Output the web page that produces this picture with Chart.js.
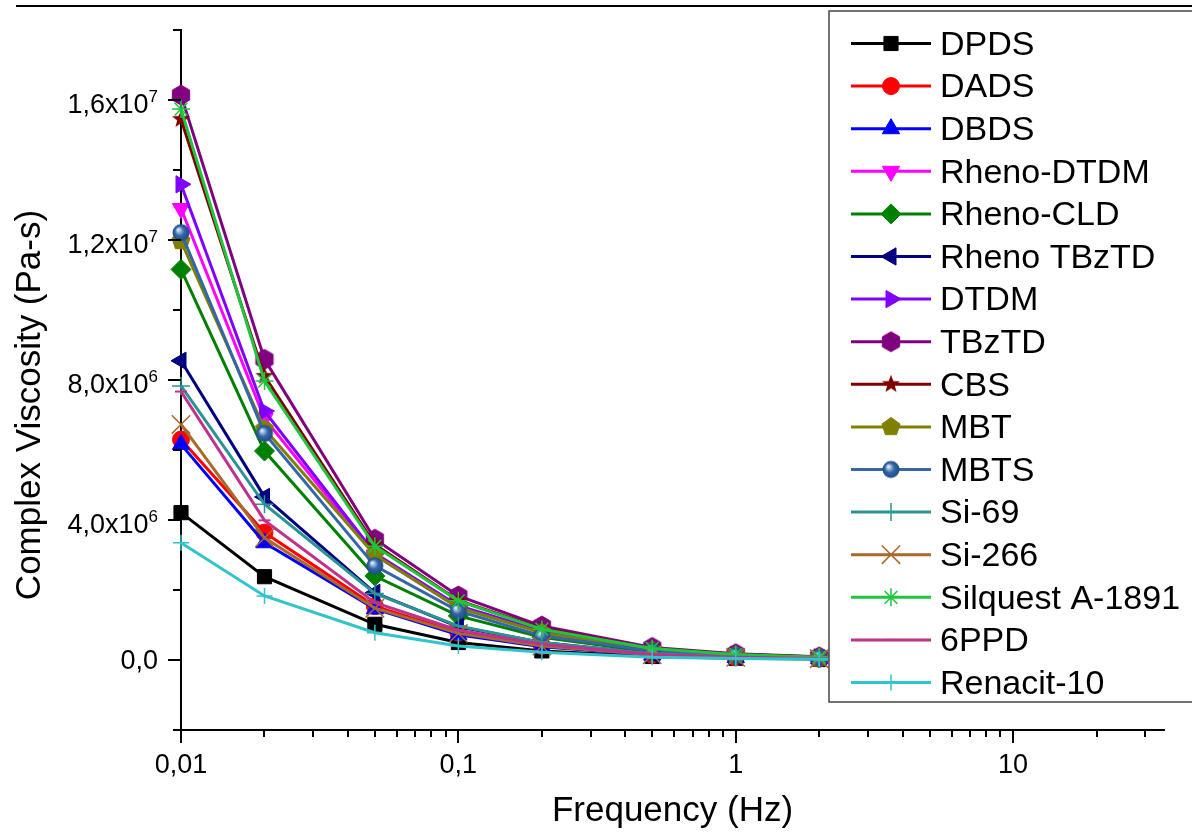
<!DOCTYPE html>
<html><head><meta charset="utf-8">
<script src="https://cdn.jsdelivr.net/npm/chart.js@4.4.1/dist/chart.umd.min.js"></script>
<style>html,body{margin:0;padding:0;background:#fff;}canvas{display:block;}</style>
</head><body>
<canvas id="c" width="1192" height="832"></canvas>
<script>
// ---------- data ----------
const frequencies = [0.01, 0.02, 0.05, 0.1, 0.2, 0.5, 1, 2, 5, 10];
const seriesNames = ['DPDS','DADS','DBDS','Rheno-DTDM','Rheno-CLD','Rheno TBzTD','DTDM','TBzTD','CBS','MBT','MBTS','Si-69','Si-266','Silquest A-1891','6PPD','Renacit-10'];
const DPDS        = [4.21e6, 2.38e6, 1.02e6, 0.50e6, 0.26e6, 0.10e6, 0.050e6, 0.025e6, 0.012e6, 0.006e6];
const DADS        = [6.30e6, 3.64e6, 1.54e6, 0.78e6, 0.40e6, 0.15e6, 0.075e6, 0.038e6, 0.016e6, 0.008e6];
const DBDS        = [6.16e6, 3.35e6, 1.46e6, 0.72e6, 0.38e6, 0.14e6, 0.070e6, 0.035e6, 0.015e6, 0.008e6];
const RhenoDTDM   = [12.9e6, 6.90e6, 3.00e6, 1.50e6, 0.80e6, 0.28e6, 0.140e6, 0.070e6, 0.030e6, 0.015e6];
const RhenoCLD    = [11.16e6, 5.97e6, 2.40e6, 1.26e6, 0.65e6, 0.23e6, 0.120e6, 0.060e6, 0.026e6, 0.013e6];
const RhenoTBzTD  = [8.55e6, 4.66e6, 1.92e6, 0.95e6, 0.50e6, 0.18e6, 0.090e6, 0.045e6, 0.020e6, 0.010e6];
const DTDM        = [13.59e6, 7.11e6, 3.05e6, 1.55e6, 0.83e6, 0.30e6, 0.150e6, 0.075e6, 0.032e6, 0.016e6];
const TBzTD       = [16.14e6, 8.59e6, 3.45e6, 1.83e6, 0.97e6, 0.36e6, 0.180e6, 0.090e6, 0.040e6, 0.020e6];
const CBS         = [15.45e6, 8.11e6, 3.30e6, 1.70e6, 0.90e6, 0.33e6, 0.165e6, 0.083e6, 0.036e6, 0.018e6];
const MBT         = [11.97e6, 6.60e6, 3.00e6, 1.50e6, 0.78e6, 0.27e6, 0.135e6, 0.068e6, 0.030e6, 0.015e6];
const MBTS        = [12.21e6, 6.47e6, 2.69e6, 1.40e6, 0.69e6, 0.26e6, 0.130e6, 0.065e6, 0.028e6, 0.014e6];
const Si69        = [7.83e6, 4.45e6, 1.90e6, 0.97e6, 0.50e6, 0.18e6, 0.090e6, 0.045e6, 0.020e6, 0.010e6];
const Si266       = [6.73e6, 3.49e6, 1.48e6, 0.76e6, 0.40e6, 0.15e6, 0.075e6, 0.037e6, 0.016e6, 0.008e6];
const SilquestA1891 = [15.74e6, 7.97e6, 3.25e6, 1.69e6, 0.88e6, 0.33e6, 0.160e6, 0.080e6, 0.035e6, 0.017e6];
const PPD6        = [7.67e6, 3.99e6, 1.64e6, 0.85e6, 0.45e6, 0.16e6, 0.080e6, 0.040e6, 0.018e6, 0.009e6];
const Renacit10   = [3.35e6, 1.83e6, 0.78e6, 0.40e6, 0.22e6, 0.08e6, 0.040e6, 0.020e6, 0.009e6, 0.005e6];
const seriesValues = [DPDS, DADS, DBDS, RhenoDTDM, RhenoCLD, RhenoTBzTD, DTDM, TBzTD, CBS, MBT, MBTS, Si69, Si266, SilquestA1891, PPD6, Renacit10];

const xTickValues = [0.01, 0.1, 1, 10];
const xTickLabels = ['0,01', '0,1', '1', '10'];
const yTickValues = [0, 4e6, 8e6, 1.2e7, 1.6e7];
const yTickMantissas = ['0,0', '4,0x10', '8,0x10', '1,2x10', '1,6x10'];
const yTickExponents = ['', '6', '6', '7', '7'];
const xTitle = 'Frequency (Hz)';
const yTitle = 'Complex Viscosity (Pa-s)';

// ---------- marker images ----------
function makeCanvas(r){const c=document.createElement('canvas');const s=2*Math.ceil(r)+4;c.width=s;c.height=s;return c;}
function polygonMarker(n, r, color){
  const c=makeCanvas(r),g=c.getContext('2d'),cx=c.width/2,cy=c.height/2;
  g.beginPath();
  for(let i=0;i<n;i++){const a=-Math.PI/2+i*2*Math.PI/n;const px=cx+r*Math.cos(a),py=cy+r*Math.sin(a);i?g.lineTo(px,py):g.moveTo(px,py);}
  g.closePath();g.fillStyle=color;g.fill();g.lineWidth=1;g.strokeStyle=color;g.stroke();return c;
}
function starMarker(r, color){
  const c=makeCanvas(r),g=c.getContext('2d'),cx=c.width/2,cy=c.height/2,ri=r*0.42;
  g.beginPath();
  for(let i=0;i<10;i++){const a=-Math.PI/2+i*Math.PI/5;const rr=i%2?ri:r;const px=cx+rr*Math.cos(a),py=cy+rr*Math.sin(a);i?g.lineTo(px,py):g.moveTo(px,py);}
  g.closePath();g.fillStyle=color;g.fill();return c;
}
function ballMarker(r, color){
  const c=makeCanvas(r),g=c.getContext('2d'),cx=c.width/2,cy=c.height/2;
  const gr=g.createRadialGradient(cx-r*0.35,cy-r*0.4,0,cx,cy,r);
  gr.addColorStop(0,'#ffffff');gr.addColorStop(0.22,'#a9c1e2');gr.addColorStop(0.55,color);gr.addColorStop(1,'#1d4a85');
  g.beginPath();g.arc(cx,cy,r,0,Math.PI*2);g.fillStyle=gr;g.fill();return c;
}

const seriesStyles = [
  {color:'#000000', point:'rect', radius:10},
  {color:'#ff0000', point:'circle', radius:8.5},
  {color:'#0000ff', point:'triangle', radius:10},
  {color:'#ff00ff', point:'triangle', radius:10, rotation:180},
  {color:'#008000', point:'rectRot', radius:10},
  {color:'#000080', point:'triangle', radius:10, rotation:-90},
  {color:'#8000ff', point:'triangle', radius:10, rotation:90},
  {color:'#800080', point:polygonMarker(6, 10, '#800080'), radius:10},
  {color:'#800000', point:starMarker(9.5, '#800000'), radius:9.5},
  {color:'#808000', point:polygonMarker(5, 9.5, '#808000'), radius:9.5},
  {color:'#3466a8', point:ballMarker(8.5, '#3466a8'), radius:8.5},
  {color:'#2a9494', point:'cross', radius:9, bw:1.5},
  {color:'#a8692a', point:'crossRot', radius:13, bw:1.5},
  {color:'#1fc43f', point:'star', radius:9, bw:1.5},
  {color:'#c0328a', point:'line', radius:6, bw:2},
  {color:'#30c4cc', point:'cross', radius:8, bw:1.5}
];

// ---------- x ticks (1..9 per decade) ----------
const xAllTicks = [];
[0.01, 0.1, 1, 10].forEach(d => { for (let m = 1; m <= 9; m++) { const v = +(m * d).toPrecision(6); if (v <= 35) xAllTicks.push(v); } });
const near = (a, b) => Math.abs(a - b) <= Math.abs(b) * 1e-6 + 1e-9;
const xLabelFor = v => { const i = xTickValues.findIndex(t => near(v, t)); return i >= 0 ? xTickLabels[i] : ''; };
const yIndexFor = v => yTickValues.findIndex(t => near(v, t));

const FONT = '"Liberation Sans", Arial, Helvetica, sans-serif';
Chart.defaults.font.family = FONT;
Chart.defaults.color = '#000';

const N = seriesNames.length;
const datasets = seriesNames.map((name, i) => {
  const s = seriesStyles[i];
  return {
    label: name,
    data: frequencies.map((f, j) => ({x: f, y: seriesValues[i][j]})),
    borderColor: s.color, backgroundColor: s.color,
    borderWidth: 3, tension: 0,
    pointStyle: s.point, pointRadius: s.radius, pointRotation: s.rotation || 0,
    pointBorderWidth: s.bw || 1, pointBackgroundColor: s.color, pointBorderColor: s.color,
    pointHoverRadius: s.radius,
    clip: false, order: N - i
  };
});

const axisDecor = {
  id: 'axisDecor',
  afterDraw(chart) {
    const ctx = chart.ctx, xs = chart.scales.x, ys = chart.scales.y;
    ctx.save(); ctx.strokeStyle = '#000'; ctx.lineWidth = 2;
    xs.ticks.forEach(t => {
      const px = Math.round(xs.getPixelForValue(t.value));
      const len = xLabelFor(t.value) ? 13 : 7;
      ctx.beginPath(); ctx.moveTo(px, xs.top); ctx.lineTo(px, xs.top + len); ctx.stroke();
    });
    ctx.fillStyle = '#000'; ctx.textBaseline = 'alphabetic';
    ys.ticks.forEach(t => {
      const py = Math.round(ys.getPixelForValue(t.value));
      const idx = yIndexFor(t.value);
      const len = idx >= 0 ? 13 : 8;
      ctx.beginPath(); ctx.moveTo(ys.right, py); ctx.lineTo(ys.right - len, py); ctx.stroke();
      if (idx >= 0) {
        const right = 158;
        const exp = yTickExponents[idx];
        ctx.font = '17px ' + FONT;
        const ew = exp ? ctx.measureText(exp).width : 0;
        if (exp) { ctx.textAlign = 'left'; ctx.fillText(exp, right - ew, py + 2); }
        ctx.font = '27px ' + FONT; ctx.textAlign = 'right';
        ctx.fillText(yTickMantissas[idx], right - ew, py + (exp ? 13 : 9));
      }
    });
    // y axis title
    ctx.save();
    ctx.translate(30, 405); ctx.rotate(-Math.PI / 2);
    ctx.font = '35px ' + FONT; ctx.textAlign = 'center'; ctx.textBaseline = 'middle';
    ctx.fillText(yTitle, 0, 0);
    ctx.restore();
    // page rule at top
    ctx.lineWidth = 2; ctx.beginPath(); ctx.moveTo(16, 6); ctx.lineTo(1192, 6); ctx.stroke();
    ctx.restore();
  }
};

const overlayLegend = {
  id: 'overlayLegend',
  afterDraw(chart) {
    const ctx = chart.ctx;
    ctx.save();
    ctx.fillStyle = '#fff'; ctx.fillRect(829, 11, 400, 691);
    ctx.strokeStyle = '#444'; ctx.lineWidth = 1.5; ctx.strokeRect(829, 11, 400, 691);
    ctx.font = '34px ' + FONT; ctx.textBaseline = 'middle'; ctx.textAlign = 'left';
    chart.data.datasets.forEach((ds, i) => {
      const y = 43.5 + i * 42.6;
      ctx.strokeStyle = ds.borderColor; ctx.lineWidth = 3;
      ctx.beginPath(); ctx.moveTo(851, y); ctx.lineTo(931, y); ctx.stroke();
      ctx.fillStyle = ds.pointBackgroundColor; ctx.strokeStyle = ds.pointBorderColor; ctx.lineWidth = ds.pointBorderWidth;
      if (Chart.helpers && Chart.helpers.drawPoint) {
        Chart.helpers.drawPoint(ctx, {pointStyle: ds.pointStyle, rotation: ds.pointRotation, radius: ds.pointRadius, borderWidth: ds.pointBorderWidth}, 891, y);
      }
      ctx.fillStyle = '#000';
      ctx.fillText(ds.label, 940, y + 2);
    });
    ctx.restore();
  }
};

new Chart(document.getElementById('c'), {
  type: 'line',
  data: {datasets},
  options: {
    responsive: false, animation: false, devicePixelRatio: 1,
    layout: {padding: {top: 30, right: 28, left: 0, bottom: 0}},
    plugins: {legend: {display: false}, tooltip: {enabled: false}},
    events: [],
    scales: {
      x: {
        type: 'logarithmic', position: 'bottom', min: 0.01, max: 35,
        afterBuildTicks(scale) { scale.ticks = xAllTicks.map(v => ({value: v})); },
        afterFit(scale) { scale.height = 102; },
        ticks: {autoSkip: false, maxRotation: 0, minRotation: 0, padding: 7, color: '#000', font: {size: 27}, callback: v => xLabelFor(v)},
        grid: {drawOnChartArea: false, drawTicks: true, tickLength: 12, color: 'rgba(0,0,0,0)'},
        border: {display: true, color: '#000', width: 2},
        title: {display: true, text: xTitle, color: '#000', font: {size: 35}, padding: {top: 1, bottom: 0}}
      },
      y: {
        min: -2e6, max: 1.8e7,
        afterFit(scale) { scale.width = 181; },
        ticks: {display: false, stepSize: 2e6, autoSkip: false},
        grid: {drawOnChartArea: false, drawTicks: false, color: 'rgba(0,0,0,0)'},
        border: {display: true, color: '#000', width: 2},
        title: {display: false}
      }
    }
  },
  plugins: [axisDecor, overlayLegend]
});
</script>
</body></html>
